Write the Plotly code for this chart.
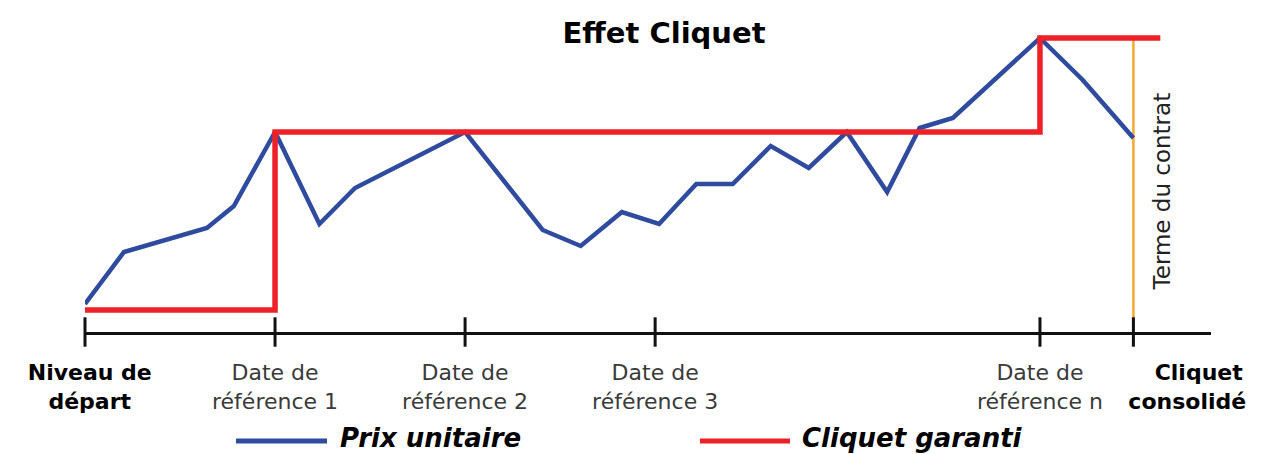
import plotly.graph_objects as go

# ---- data ----
prix_x = [0, 2.46, 7.7, 9.4, 12, 14.8, 17.05, 24, 28.9, 31.3, 33.9, 36.25,
          38.6, 40.9, 43.3, 45.7, 48.1, 50.65, 52.7, 54.8, 60.3, 63.0, 66.2]
prix_y = [14, 40, 52, 63, 100, 54, 72, 100, 51, 43, 60, 54,
          74, 74, 93, 82, 100, 70, 102, 107, 147, 126, 97]

cliquet_x = [0, 12, 12, 60.3, 60.3, 67.9]
cliquet_y = [11, 11, 100, 100, 147, 147]

terme_x = [66.2, 66.2]
terme_y = [0, 147]

tick_x = [0, 12, 24, 36, 60.3, 66.2]
label_x = [0.3, 12, 24, 36, 60.3, 69.6]
tick_labels = [
    "<b><span style='color:#000'>Niveau de<br>départ</span></b>",
    "Date de<br>référence 1",
    "Date de<br>référence 2",
    "Date de<br>référence 3",
    "Date de<br>référence n",
    "<b><span style='color:#000'>   Cliquet<br>consolidé</span></b>",
]

BLUE = "#2E4B9F"
RED = "#EE2028"
ORANGE = "#F6A833"

# page body has an 8px margin: figure is laid out in page px minus 8
OFF = 8
W, H = 1269 - OFF, 454 - OFF
L, R, T, B = 85 - OFF, 58, 20 - OFF, 122
pw = W - L - R
ph = H - T - B


def px_to_paper_x(px):
    return (px - OFF - L) / pw


def py_to_paper_y(py):
    return (H - B - (py - OFF)) / ph


fig = go.Figure()

fig.add_trace(go.Scatter(x=terme_x, y=terme_y, mode="lines",
                         line=dict(color=ORANGE, width=2.5),
                         showlegend=False, hoverinfo="skip", cliponaxis=False))
fig.add_trace(go.Scatter(x=prix_x, y=prix_y, mode="lines", name="Prix unitaire",
                         line=dict(color=BLUE, width=4.5),
                         showlegend=False, cliponaxis=False))
fig.add_trace(go.Scatter(x=cliquet_x, y=cliquet_y, mode="lines", name="Cliquet garanti",
                         line=dict(color=RED, width=5.5),
                         showlegend=False, cliponaxis=False))
# tick marks crossing the axis
fig.add_trace(go.Scatter(x=tick_x, y=[0] * len(tick_x), mode="markers",
                         marker=dict(symbol="line-ns", size=21,
                                     line=dict(color="#111", width=3)),
                         showlegend=False, hoverinfo="skip", cliponaxis=False))

fig.update_layout(
    width=W, height=H,
    margin=dict(l=L, r=R, t=T, b=B, autoexpand=False),
    paper_bgcolor="white", plot_bgcolor="white",
    title=dict(text="<b>Effet Cliquet</b>", x=(664 - OFF) / W, xref="container",
               xanchor="center", y=1 - (33 - OFF) / H, yanchor="middle",
               font=dict(family="DejaVu Sans", size=29, color="#000")),
    xaxis=dict(range=[0, 71.1], showgrid=False, zeroline=False,
               showline=True, linecolor="#111", linewidth=3,
               tickmode="array", tickvals=label_x, ticktext=tick_labels,
               tickangle=0, automargin=False,
               ticks="", tickfont=dict(family="DejaVu Sans", size=22, color="#3a3a3a"),
               ticklabelstandoff=19),
    yaxis=dict(range=[0, 156], showgrid=False, zeroline=False, showline=False,
               showticklabels=False, ticks="", automargin=False),
    showlegend=False,
)

fig.add_annotation(text="Terme du contrat", x=66.2, y=(332 - 191) / 2,
                   xref="x", yref="y", xshift=29, textangle=-90,
                   showarrow=False, font=dict(family="DejaVu Sans", size=23, color="#222"))

# manual legend
line_y_px = 441
text_y_px = 438
for (x0, x1, color, tx, label) in [
    (236, 327, BLUE, 338, "Prix unitaire"),
    (700, 790, RED, 800, "Cliquet garanti"),
]:
    fig.add_shape(type="line", xref="paper", yref="paper",
                  x0=px_to_paper_x(x0), x1=px_to_paper_x(x1),
                  y0=py_to_paper_y(line_y_px), y1=py_to_paper_y(line_y_px),
                  line=dict(color=color, width=5))
    fig.add_annotation(text=f"<b><i>{label}</i></b>", xref="paper", yref="paper",
                       x=px_to_paper_x(tx), y=py_to_paper_y(text_y_px),
                       xanchor="left", yanchor="middle", showarrow=False,
                       font=dict(family="DejaVu Sans", size=26, color="#000"))

fig.write_html("out.html")
